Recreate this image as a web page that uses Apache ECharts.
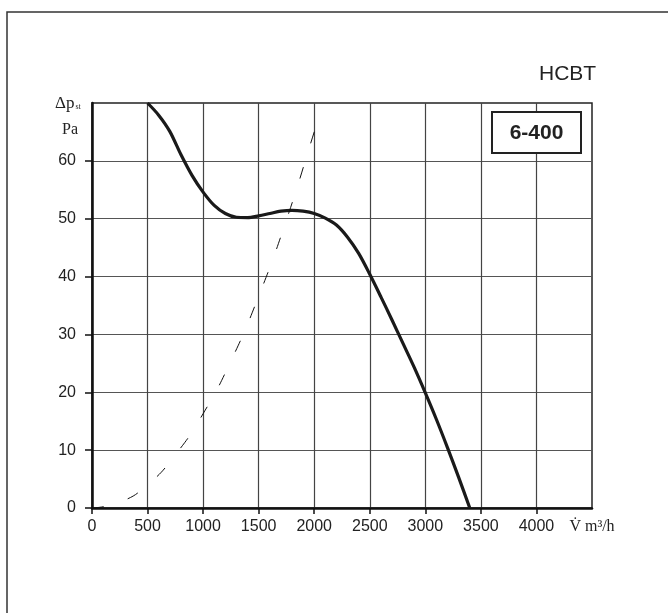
<!DOCTYPE html>
<html>
<head>
<meta charset="utf-8">
<script src="https://cdn.jsdelivr.net/npm/echarts@6/dist/echarts.min.js"></script>
<style>
  html, body { margin: 0; padding: 0; background: #fff; }
  #chart { width: 668px; height: 613px; }
</style>
</head>
<body>
<div id="chart"></div>
<script>
// fan curve (V m3/h, dp Pa)
var fanCurve = [
  [500, 70], [600, 67.9], [700, 65.1], [800, 61.1], [900, 57.5],
  [1000, 54.6], [1100, 52.3], [1200, 50.9], [1300, 50.25], [1400, 50.2],
  [1500, 50.5], [1600, 50.9], [1700, 51.3], [1800, 51.45], [1900, 51.3],
  [2000, 50.9], [2100, 50.1], [2200, 48.9], [2300, 46.8], [2400, 44.0],
  [2500, 40.4], [2600, 36.5], [2700, 32.5], [2800, 28.4], [2900, 24.3],
  [3000, 19.9], [3100, 15.3], [3200, 10.4], [3300, 5.3], [3400, 0]
];
// system curve (dashed)
var systemCurve = [
  [0, 0], [250, 1], [500, 4], [750, 9.2], [1000, 16.3], [1250, 25.4],
  [1500, 36.6], [1750, 49.8], [2000, 65], [2040, 67.5]
];
var xTicks = [0, 500, 1000, 1500, 2000, 2500, 3000, 3500, 4000];
var yTicks = [0, 10, 20, 30, 40, 50, 60];
var modelName = 'HCBT';
var sizeName = '6-400';

var chart = echarts.init(document.getElementById('chart'));

var option = {
  backgroundColor: '#fff',
  animation: false,
  grid: {
    left: 92, top: 103, right: 76, bottom: 105,
    show: true, borderColor: '#222', borderWidth: 1.5
  },
  xAxis: {
    type: 'value', min: 0, max: 4500, interval: 500,
    axisLine: { show: true, lineStyle: { color: '#111', width: 2.5 } },
    axisTick: { show: true, length: 6, customValues: xTicks, lineStyle: { color: '#111', width: 1.5 } },
    axisLabel: {
      margin: 11, color: '#222', fontSize: 16,
      fontFamily: '"Liberation Sans", sans-serif',
      formatter: function (v) {
        return v === 4500 ? '{u|V\u0307 m\u00b3/h}' : String(v);
      },
      rich: {
        u: { fontFamily: '"Liberation Serif", serif', fontSize: 16, color: '#222' }
      }
    },
    splitLine: { show: true, lineStyle: { color: '#444', width: 1.2 } }
  },
  yAxis: {
    type: 'value', min: 0, max: 70, interval: 10,
    axisLine: { show: true, lineStyle: { color: '#111', width: 2.5 } },
    axisTick: { show: true, length: 7, customValues: yTicks, lineStyle: { color: '#111', width: 1.5 } },
    axisLabel: {
      margin: 16, color: '#222', fontSize: 16,
      fontFamily: '"Liberation Sans", sans-serif',
      formatter: function (v) { return v === 70 ? '' : String(v); }
    },
    splitLine: { show: true, lineStyle: { color: '#555', width: 1.2 } }
  },
  graphic: [
    {
      type: 'polyline', z: 100,
      shape: { points: [[7, 613], [7, 12], [668, 12]] },
      style: { stroke: '#333', lineWidth: 1.5, fill: null }
    },
    {
      type: 'text', z: 100, left: 539, top: 64,
      style: { text: modelName, fontSize: 21, fill: '#222', fontFamily: '"Liberation Sans", sans-serif' }
    },
    {
      type: 'rect', z: 100,
      shape: { x: 492, y: 112, width: 89, height: 41 },
      style: { fill: '#fff', stroke: '#222', lineWidth: 2 }
    },
    {
      type: 'text', z: 101, x: 536.5, y: 133,
      style: {
        text: sizeName, fontSize: 21, fontWeight: 'bold', fill: '#222',
        fontFamily: '"Liberation Sans", sans-serif',
        align: 'center', verticalAlign: 'middle'
      }
    },
    {
      type: 'text', z: 100, x: 55, y: 104,
      style: {
        text: '{d|\u0394p}{s|st}', fill: '#222', verticalAlign: 'middle',
        rich: {
          d: { fontFamily: '"Liberation Serif", serif', fontSize: 17, fill: '#222' },
          s: { fontFamily: '"Liberation Serif", serif', fontSize: 8, fill: '#222', padding: [6, 0, 0, 1] }
        }
      }
    },
    {
      type: 'text', z: 100, x: 62, y: 130,
      style: {
        text: 'Pa', fontSize: 16, fill: '#222', verticalAlign: 'middle',
        fontFamily: '"Liberation Serif", serif'
      }
    }
  ],
  series: [
    {
      type: 'line', data: fanCurve, smooth: 0.3,
      symbol: 'none', clip: true,
      lineStyle: { color: '#1a1a1a', width: 3.2 }
    },
    {
      type: 'line', data: systemCurve, smooth: true, symbol: 'none', clip: true,
      lineStyle: { color: '#111', width: 1, type: [12, 25] }
    }
  ]
};

chart.setOption(option);
</script>
</body>
</html>
